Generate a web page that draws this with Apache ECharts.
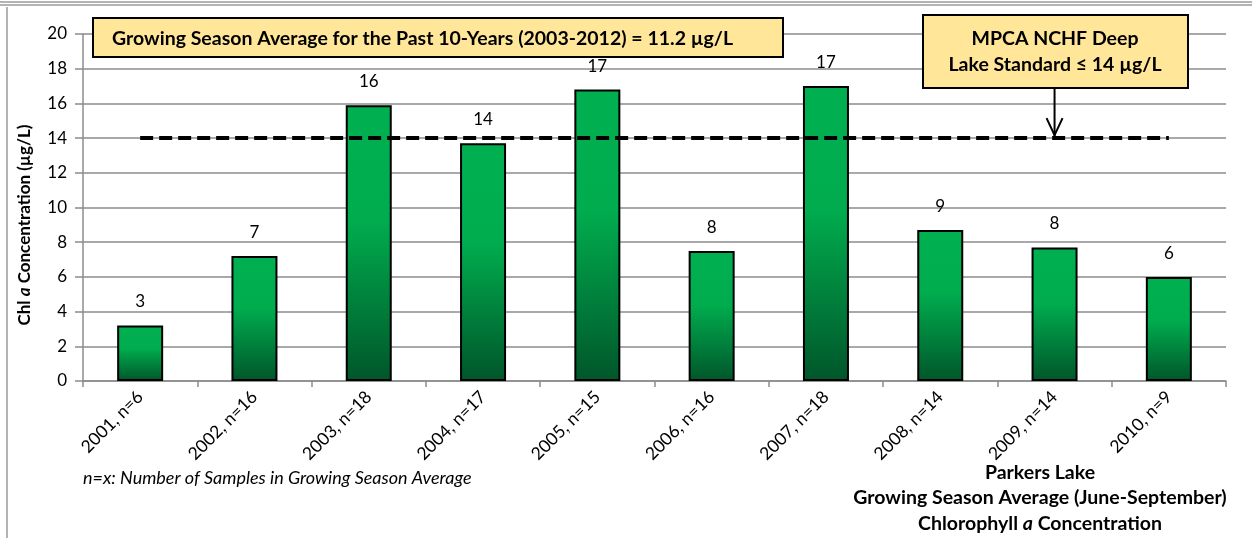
<!DOCTYPE html>
<html>
<head>
<meta charset="utf-8">
<script src="https://cdn.jsdelivr.net/npm/echarts@6/dist/echarts.min.js"></script>
<style>
  html, body { margin: 0; padding: 0; background: #fff; }
  #chart { width: 1252px; height: 538px; }
</style>
</head>
<body>
<div id="chart"></div>
<script>
// data
var categories = ['2001, n=6', '2002, n=16', '2003, n=18', '2004, n=17', '2005, n=15',
                  '2006, n=16', '2007, n=18', '2008, n=14', '2009, n=14', '2010, n=9'];
var chlA = [3.2, 7.2, 15.9, 13.7, 16.8, 7.5, 17.0, 8.7, 7.7, 6.0];
var standard = 14;
var yTicks = { min: 0, max: 20, interval: 2 };

var FONT = 'Lato, "Open Sans", sans-serif';
var chart = echarts.init(document.getElementById('chart'));

var option = {
  animation: false,
  textStyle: { fontFamily: FONT },
  grid: { left: 83, right: 26, top: 34, bottom: 157, containLabel: false },
  xAxis: {
    type: 'category',
    data: categories,
    axisLine: { lineStyle: { color: '#8c8c8c', width: 1.5 } },
    axisTick: { show: true, length: 6, lineStyle: { color: '#8c8c8c', width: 1.5 } },
    axisLabel: { rotate: 45, fontSize: 17.5, color: '#000', margin: 13, interval: 0, fontFamily: FONT }
  },
  yAxis: {
    type: 'value',
    min: yTicks.min,
    max: yTicks.max,
    interval: yTicks.interval,
    axisLine: { show: true, lineStyle: { color: '#8c8c8c', width: 1.5 } },
    axisTick: { show: true, length: 8, lineStyle: { color: '#8c8c8c', width: 1.5 } },
    axisLabel: { fontSize: 17, color: '#000', margin: 16, fontFamily: FONT },
    splitLine: { lineStyle: { color: '#8c8c8c', width: 1.5 } }
  },
  series: [
    {
      type: 'bar',
      data: chlA,
      barWidth: 46,
      itemStyle: {
        borderColor: '#000',
        borderWidth: 2,
        color: new echarts.graphic.LinearGradient(0, 0, 0, 1, [
          { offset: 0, color: '#00B050' },
          { offset: 0.42, color: '#00AC4E' },
          { offset: 1, color: '#00562A' }
        ])
      },
      label: {
        show: true,
        position: 'top',
        distance: 15,
        fontSize: 17,
        color: '#000',
        fontFamily: FONT,
        formatter: function (p) { return Math.round(p.value); }
      },
      z: 2
    },
    {
      type: 'line',
      data: categories.map(function () { return standard; }),
      symbol: 'none',
      lineStyle: { color: '#000', width: 4, type: [13, 6] },
      z: 3
    }
  ]
};
chart.setOption(option);

// annotation arrow points to the standard line at the 2009 category
var ax = chart.convertToPixel({ xAxisIndex: 0 }, categories[8]);
var ay = chart.convertToPixel({ yAxisIndex: 0 }, standard);

chart.setOption({
  graphic: [
    // frame
    { type: 'line', shape: { x1: 0, y1: 2, x2: 1252, y2: 2 }, style: { stroke: '#9a9a9a', lineWidth: 1.5 } },
    { type: 'line', shape: { x1: 0, y1: 5, x2: 1252, y2: 5 }, style: { stroke: '#9a9a9a', lineWidth: 1.5 } },
    { type: 'line', shape: { x1: 7, y1: 7, x2: 7, y2: 538 }, style: { stroke: '#9a9a9a', lineWidth: 1.5 } },
    // y axis title
    {
      type: 'text', x: 25, y: 225, rotation: Math.PI / 2,
      style: {
        text: '{b|Chl }{i|a}{b| Concentration (µg/L)}',
        align: 'center', verticalAlign: 'middle',
        rich: {
          b: { fontSize: 17, fontWeight: 'bold', fill: '#000', color: '#000', fontFamily: FONT },
          i: { fontSize: 17, fontWeight: 'bold', fontStyle: 'italic', fill: '#000', color: '#000', fontFamily: FONT }
        }
      }
    },
    // 10-year average box
    {
      type: 'rect', z: 10,
      shape: { x: 93, y: 18, width: 690, height: 39 },
      style: { fill: '#FFE699', stroke: '#000', lineWidth: 2 }
    },
    {
      type: 'text', z: 11, x: 112, y: 39,
      style: {
        text: 'Growing Season Average for the Past 10-Years (2003-2012) = 11.2 µg/L',
        fontSize: 19.5, fontWeight: 'bold', fill: '#000', fontFamily: FONT,
        verticalAlign: 'middle'
      }
    },
    // standard box
    {
      type: 'rect', z: 10,
      shape: { x: 923, y: 15, width: 265, height: 73 },
      style: { fill: '#FFE699', stroke: '#000', lineWidth: 2 }
    },
    {
      type: 'text', z: 11, x: 1055, y: 52,
      style: {
        text: 'MPCA NCHF Deep\nLake Standard ≤ 14 µg/L',
        fontSize: 19.5, fontWeight: 'bold', fill: '#000', fontFamily: FONT,
        lineHeight: 26, align: 'center', verticalAlign: 'middle'
      }
    },
    // arrow
    {
      type: 'line', z: 11,
      shape: { x1: ax, y1: 88, x2: ax, y2: ay - 2 },
      style: { stroke: '#000', lineWidth: 2 }
    },
    {
      type: 'polyline', z: 11,
      shape: { points: [[ax - 8, ay - 20], [ax, ay - 3], [ax + 8, ay - 20]] },
      style: { stroke: '#000', lineWidth: 2, fill: null }
    },
    // footnote
    {
      type: 'text', x: 83, y: 478,
      style: {
        text: 'n=x: Number of Samples in Growing Season Average',
        fontSize: 18, fontStyle: 'italic', fill: '#000', fontFamily: FONT,
        verticalAlign: 'middle'
      }
    },
    // chart title, bottom right
    {
      type: 'text', x: 1040, y: 498,
      style: {
        text: '{b|Parkers Lake}\n{b|Growing Season Average (June-September)}\n{b|Chlorophyll }{i|a}{b| Concentration}',
        align: 'center', verticalAlign: 'middle',
        rich: {
          b: { fontSize: 19.5, fontWeight: 'bold', fill: '#000', color: '#000', fontFamily: FONT, lineHeight: 25.5 },
          i: { fontSize: 19.5, fontWeight: 'bold', fontStyle: 'italic', fill: '#000', color: '#000', fontFamily: FONT, lineHeight: 25.5 }
        }
      }
    }
  ]
});
</script>
</body>
</html>
